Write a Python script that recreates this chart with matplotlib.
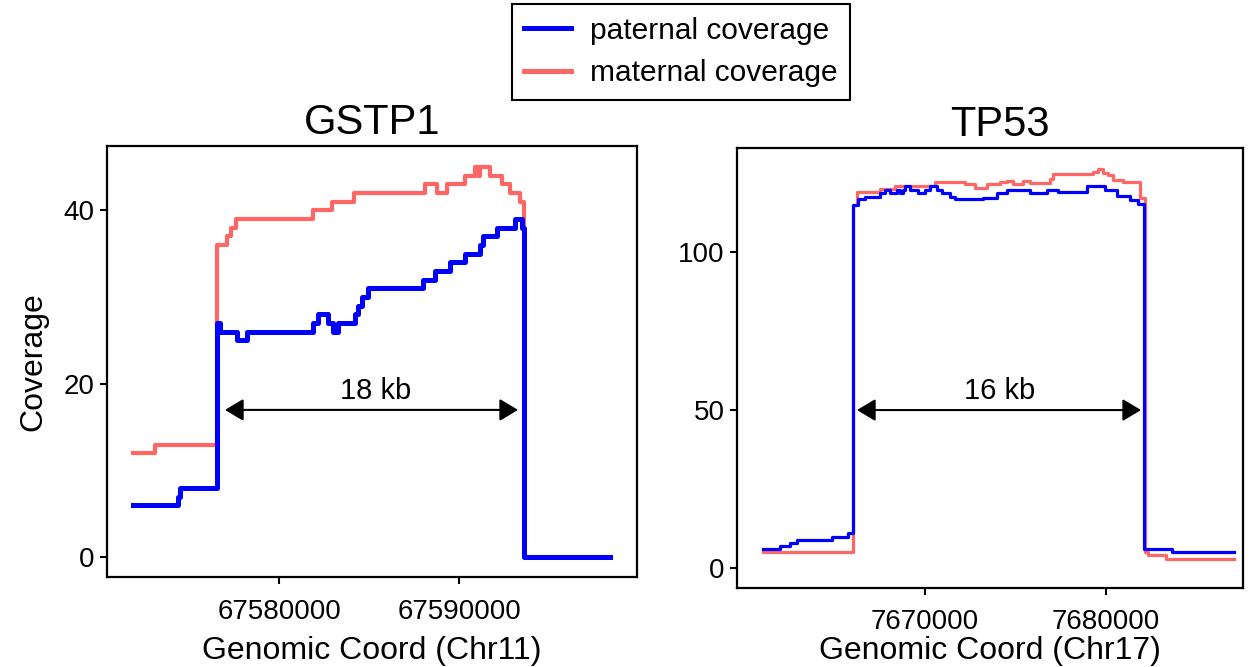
import matplotlib
matplotlib.use("Agg")
import matplotlib.pyplot as plt
from matplotlib.ticker import FixedLocator, FormatStrFormatter

plt.rcParams["font.family"] = ["Liberation Sans", "DejaVu Sans"]

# GSTP1 (Chr11) step coverage: positions where each level starts
gstp1_pat_pos = [67571889, 67574389, 67574500, 67576556, 67576722, 67577667, 67578222,
                 67581889, 67582167, 67582722, 67583000, 67583278, 67584222, 67584389,
                 67584611, 67584944, 67588000, 67588667, 67589500, 67590333, 67591167,
                 67591333, 67592111, 67593111, 67593500, 67593611, 67598389]
gstp1_pat_cov = [6, 7, 8, 27, 26, 25, 26, 27, 28, 27, 26, 27, 28, 29, 30, 31, 32, 33, 34,
                 35, 36, 37, 38, 39, 38, 0, 0]
gstp1_mat_pos = [67571889, 67573111, 67576556, 67577111, 67577333, 67577611, 67581889,
                 67582944, 67584167, 67588111, 67588778, 67589333, 67590333, 67590889,
                 67591056, 67591167, 67591722, 67592389, 67592833, 67593389, 67593611,
                 67598389]
gstp1_mat_cov = [12, 13, 36, 37, 38, 39, 40, 41, 42, 43, 42, 43, 44, 45, 44, 45, 44, 43,
                 42, 41, 0, 0]

# TP53 (Chr17)
tp53_pat_pos = [7661035, 7661976, 7662529, 7662916, 7664853, 7665739, 7666016, 7666292,
                7666680, 7667510, 7667786, 7668063, 7668450, 7668616, 7668783, 7668893,
                7669170, 7669613, 7670000, 7670277, 7670664, 7670941, 7671384, 7671660,
                7673210, 7673984, 7674538, 7675811, 7676751, 7677360, 7678965, 7679961,
                7680625, 7681345, 7681787, 7682120, 7683669, 7687100]
tp53_pat_cov = [6, 7, 8, 9, 10, 11, 115, 116.7, 117.3, 118.6, 119.6, 118.8, 119.6, 118.8,
                119.6, 121, 119.6, 118.8, 119.6, 120.9, 119.6, 118.8, 117.5, 116.8, 117.2,
                118.6, 119.6, 118.6, 119.6, 119, 120.8, 119.6, 117.8, 116.5, 115.1, 6, 5, 5]
tp53_mat_pos = [7661035, 7666016, 7666237, 7667510, 7668340, 7670553, 7672214, 7672767,
                7673431, 7674150, 7674538, 7674870, 7675423, 7675811, 7676918, 7677084,
                7679297, 7679574, 7679851, 7680127, 7680404, 7680957, 7681898, 7682175,
                7682341, 7683337, 7687100]
tp53_mat_cov = [5, 115, 118.9, 120, 121, 122, 121.5, 120.1, 121.5, 122, 122.6, 121.5, 122.6,
                121.7, 123, 124.7, 125.4, 126.4, 124.9, 124.4, 122.8, 122, 117, 5, 4, 3, 3]

PAT_COLOR = "#0000FF"
MAT_COLOR = "#FF6666"

PANELS = [
    dict(title="GSTP1", title_x=0.5, xlabel="Genomic Coord (Chr11)", xpad=11, xlabelpad=8,
         ylabel="Coverage",
         pat=(gstp1_pat_pos, gstp1_pat_cov), mat=(gstp1_mat_pos, gstp1_mat_cov),
         rect=[0.0851, 0.1349, 0.4217, 0.6462], xlim=(67570444, 67599889), ylim=(-2.25, 47.4),
         xticks=[67580000, 67590000], yticks=[0, 20, 40], lw=(3.6, 3.0),
         arrow=(67577000, 67593278, 17), span="18 kb", text_xy=(67585389, 19.2)),
    dict(title="TP53", title_x=0.52, xlabel="Genomic Coord (Chr17)", xpad=10, xlabelpad=1,
         ylabel=None,
         pat=(tp53_pat_pos, tp53_pat_cov), mat=(tp53_mat_pos, tp53_mat_cov),
         rect=[0.5863, 0.1184, 0.4026, 0.6597], xlim=(7659596, 7687598), ylim=(-6.3, 132.9),
         xticks=[7670000, 7680000], yticks=[0, 50, 100], lw=(2.3, 2.3),
         arrow=(7666237, 7681953, 50), span="16 kb", text_xy=(7674150, 56)),
]


def main():
    fig = plt.figure(figsize=(12.57, 6.67), dpi=100)
    handles = None
    for p in PANELS:
        ax = fig.add_axes(p["rect"])
        lw_pat, lw_mat = p["lw"]
        hm, = ax.step(*p["mat"], where="post", color=MAT_COLOR, lw=lw_mat,
                      label="maternal coverage")
        hp, = ax.step(*p["pat"], where="post", color=PAT_COLOR, lw=lw_pat,
                      label="paternal coverage")
        handles = [hp, hm]

        x1, x2, y = p["arrow"]
        ax.annotate("", xy=(x2, y), xytext=(x1, y),
                    arrowprops=dict(arrowstyle="<|-|>,head_length=0.45,head_width=0.27",
                                    color="black", lw=1.5, mutation_scale=25,
                                    shrinkA=0, shrinkB=0))
        ax.text(*p["text_xy"], p["span"], ha="center", va="center", fontsize=21)

        ax.set_xlim(*p["xlim"])
        ax.set_ylim(*p["ylim"])
        ax.xaxis.set_major_locator(FixedLocator(p["xticks"]))
        ax.yaxis.set_major_locator(FixedLocator(p["yticks"]))
        ax.xaxis.set_major_formatter(FormatStrFormatter("%d"))
        ax.yaxis.set_major_formatter(FormatStrFormatter("%d"))
        ax.tick_params(labelsize=20, length=5, width=1.5, color="black")
        ax.tick_params(axis="x", pad=p["xpad"])
        ax.tick_params(axis="y", pad=4)
        for s in ax.spines.values():
            s.set_linewidth(1.6)
            s.set_color("black")
        ax.set_title(p["title"], fontsize=30, pad=9, x=p["title_x"])
        ax.set_xlabel(p["xlabel"], fontsize=23, labelpad=p["xlabelpad"])
        if p["ylabel"]:
            ax.set_ylabel(p["ylabel"], fontsize=23, labelpad=11)

    leg = fig.legend(handles=handles, loc="center", bbox_to_anchor=(0.5418, 0.922),
                     fontsize=21.5, handlelength=1.55, handletextpad=0.65, labelspacing=0.5,
                     borderpad=0.42, fancybox=False, framealpha=1, edgecolor="black")
    leg.get_frame().set_linewidth(1.5)
    for h in leg.get_lines():
        h.set_linewidth(3.6)

    fig.savefig("out.png", dpi=100)


if __name__ == "__main__":
    main()
